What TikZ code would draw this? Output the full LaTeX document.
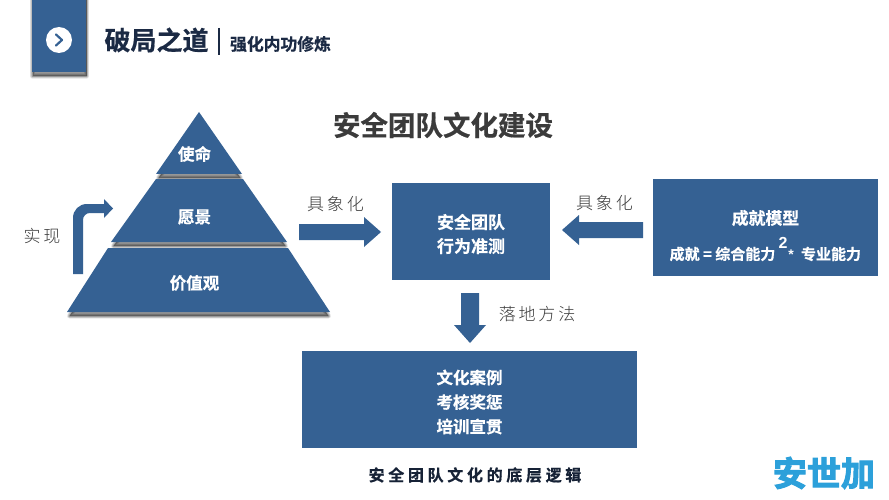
\documentclass[tikz,border=0pt]{standalone}
\usepackage{fontspec}
\setmainfont{Liberation Sans}
\newfontfamily\cjk[BoldFont={Noto Sans CJK SC Bold},BoldFeatures={FakeBold=0.6}]{Noto Sans CJK SC}
\newfontfamily\cjklight{Noto Sans CJK SC Light}
\newfontfamily\cjkheavy[FakeBold=3]{Noto Sans CJK SC Bold}
\definecolor{boxblue}{HTML}{356193}
\definecolor{navy}{HTML}{1B2A44}
\definecolor{darktxt}{HTML}{3B3B3B}
\definecolor{logoblue}{HTML}{2CA0DA}
\newcommand{\softshadow}[1]{\foreach \ww in {0.4,1.2,2,2.8,3.6,4.4,5.2}{\path[fill=black,draw=black,fill opacity=0.07,draw opacity=0.07,line width=\ww pt,line join=round,shift={(0.5,4)}] #1;}}
\tikzset{
  x=1pt,y=-1pt,
  blu/.style={fill=boxblue,draw=none},
  wlab/.style={text=white,font=\cjk\bfseries,align=center,inner sep=0pt},
  serif/.style={text=darktxt,font=\cjklight\fontsize{17}{20}\selectfont,inner sep=0pt},
  ttl/.style={font=\cjk\bfseries,inner sep=0pt},
}
\begin{document}
\begin{tikzpicture}
\useasboundingbox (0,0) rectangle (889,500);
\fill[white] (0,0) rectangle (889,500);
% header
\softshadow{(32,-10) rectangle (86,72)}
\path[blu] (32,0) rectangle (86,72);
\node[circle,fill=white,minimum size=26pt,inner sep=0pt] (hc) at (59,40) {};
\draw[boxblue,line width=2.2pt,line cap=round,line join=round] (56,34.5) -- (62,40) -- (56,45.5);
\node[ttl,text=navy,font=\cjk\bfseries\fontsize{26}{30}\selectfont] (h1) at (156.5,40) {破局之道};
\draw[navy,line width=1.6pt] (219,28) -- (219,55);
\node[ttl,text=navy,font=\cjk\bfseries\fontsize{16.8}{19}\selectfont] (h2) at (280.5,44) {强化内功修炼};
% title
\node[ttl,text=darktxt,font=\cjk\bfseries\fontsize{27.5}{32}\selectfont] (t) at (443,125) {安全团队文化建设};
% pyramid
\softshadow{(199,116) -- (240,174) -- (158,174) -- cycle}
\path[blu] (199,112) -- (242,174) -- (156,174) -- cycle;
\softshadow{(158,182) -- (241,182) -- (285,242) -- (113,242) -- cycle}
\path[blu] (156,179) -- (243,179) -- (287,242) -- (111,242) -- cycle;
\softshadow{(110,251) -- (286,251) -- (328,312) -- (69,312) -- cycle}
\path[blu] (108,248) -- (288,248) -- (330,312) -- (67,312) -- cycle;
\node[wlab,font=\cjk\bfseries\fontsize{16.5}{19}\selectfont] (p1) at (194.5,154) {使命};
\node[wlab,font=\cjk\bfseries\fontsize{16.5}{19}\selectfont] (p2) at (194.5,217) {愿景};
\node[wlab,font=\cjk\bfseries\fontsize{16.5}{19}\selectfont] (p3) at (194.5,283) {价值观};
% bent arrow
\path[blu] (73,274) -- (73,218) .. controls (73,210) and (79,204) .. (87,204) -- (104,204) -- (104,199) -- (113,208.5) -- (104,218) -- (104,213) -- (90,213) .. controls (86,213) and (83,216) .. (83,220) -- (83,274) -- cycle;
\node[serif] (shixian) at (42,236) {实\,现};
% boxes
\node[blu,minimum width=158pt,minimum height=97pt,inner sep=0pt] (b1) at (471,231.5) {};
\node[wlab,font=\cjk\bfseries\fontsize{17}{24}\selectfont] (b1t) at (471,234) {安全团队\\行为准测};
\node[blu,minimum width=225pt,minimum height=97pt,inner sep=0pt] (b2) at (765.5,227.5) {};
\node[blu,minimum width=335pt,minimum height=97pt,inner sep=0pt] (b3) at (469.5,399.5) {};
\node[wlab,font=\cjk\bfseries\fontsize{16.5}{24.5}\selectfont] (b3t) at (469.5,402) {文化案例\\考核奖惩\\培训宣贯};
\node[wlab,font=\cjk\bfseries\fontsize{16.8}{19}\selectfont] (m1) at (765.5,218) {成就模型};
\node[wlab,font=\cjk\bfseries\fontsize{15}{18}\selectfont] (m2) at (722.5,254) {成就 = 综合能力};
\node[wlab,font=\cjk\bfseries\fontsize{15}{18}\selectfont] (m3) at (831,254) {专业能力};
\node[wlab,font=\bfseries\fontsize{16}{18}\selectfont] (m4) at (783,243) {2};
\node[wlab,font=\bfseries\fontsize{14}{16}\selectfont] (m5) at (791,255) {*};
% arrows
\path[blu] (299,224) -- (364,224) -- (364,217) -- (381,232) -- (364,247) -- (364,240) -- (299,240) -- cycle;
\path[blu] (643,222) -- (579,222) -- (579,215) -- (562,230) -- (579,245) -- (579,238) -- (643,238) -- cycle;
\path[blu] (461,293) -- (479,293) -- (479,325) -- (486,325) -- (470,343) -- (454,325) -- (461,325) -- cycle;
\node[serif] (l1) at (335.5,204) {具\,象\,化};
\node[serif] (l2) at (604.5,203) {具\,象\,化};
\node[serif] (l3) at (537,314) {落\,地\,方\,法};
\node[ttl,text=navy!80!black,font=\cjk\bfseries\fontsize{16}{19}\selectfont] (cap) at (475,475) {\addfontfeatures{LetterSpace=23}安全团队文化的底层逻辑};
\node[inner sep=0pt,text=logoblue,font=\cjkheavy\fontsize{34}{36}\selectfont] (logo) at (824,473) {安世加};
\end{tikzpicture}
\end{document}
